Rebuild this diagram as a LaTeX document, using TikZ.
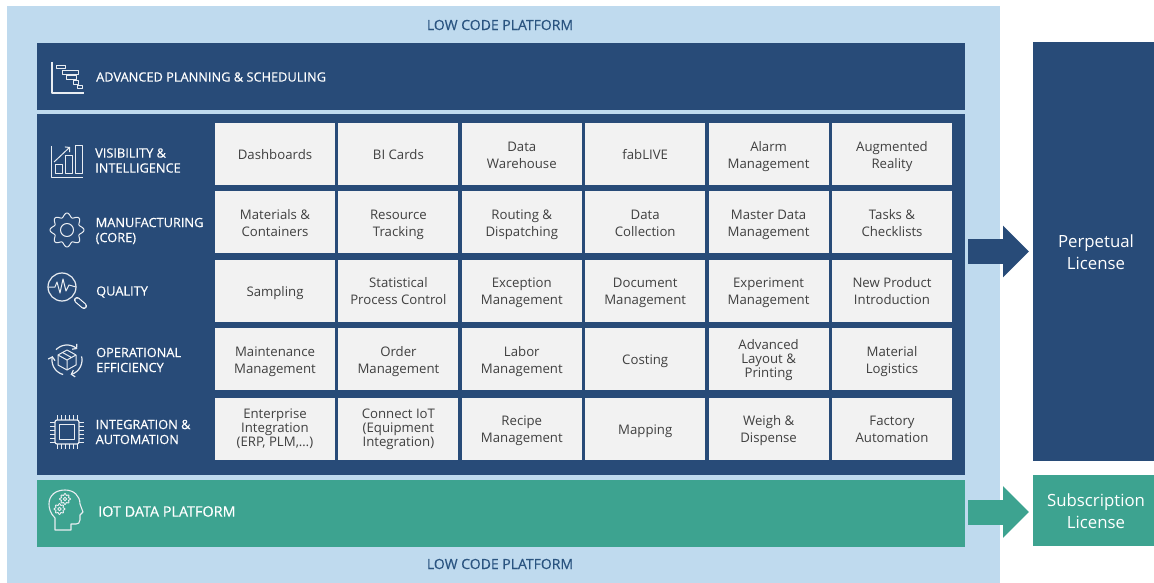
\documentclass[tikz,border=0pt]{standalone}
\usepackage{fontspec}
\setmainfont{Open Sans}
\newfontfamily\headfont[FakeBold=0.4]{Open Sans}
\usetikzlibrary{arrows.meta}
\definecolor{skyback}{HTML}{BFDAEE}
\definecolor{navy}{HTML}{284B78}
\definecolor{teal}{HTML}{3DA390}
\definecolor{cellgray}{HTML}{F2F2F2}
\definecolor{celltext}{HTML}{404040}
\definecolor{platformtext}{HTML}{2A5480}
\tikzset{
  panel/.style={inner sep=0pt, outer sep=0pt, fill=#1},
  cellback/.style={fill=cellgray, minimum width=120pt, minimum height=62pt, inner sep=0pt},
  celltxt/.style={text=celltext, inner sep=0pt, align=center, anchor=base,
    font=\fontsize{13.2}{17}\selectfont},
  onecell/.style={celltxt, yshift=-5.8pt},
  cellbox/.style={celltxt, yshift=-14pt},
  tightcell/.style={celltxt, yshift=-18pt, font=\fontsize{13.2}{14}\selectfont},
  layerlabel/.style={text=white, anchor=west, inner sep=0pt, align=left,
    font=\headfont\fontsize{12.8}{15}\selectfont},
  platformlabel/.style={text=platformtext, inner sep=0pt, font=\headfont\fontsize{14}{15}\selectfont},
  licenselabel/.style={text=white, inner sep=0pt, align=center, font=\fontsize{16.8}{21.5}\selectfont},
  bigarrow/.style={line width=25pt, draw=#1, shorten <=3pt, shorten >=4pt,
    -{Triangle[length=26pt,width=50pt,fill=#1]}},
  iconline/.style={draw=white!90!navy, line width=1pt, line join=round}
}
\begin{document}
\begin{tikzpicture}[x=1pt,y=-1pt]
  \useasboundingbox (0,0) rectangle (1154,583);

  % the background and the panels
  \fill[skyback] (7,6) rectangle (1000,583);
  \node[panel=navy, minimum width=928pt, minimum height=67pt] (aps) at (501,76.5) {};
  \node[panel=navy, minimum width=928pt, minimum height=361pt] (stack) at (501,294.5) {};
  \node[panel=teal, minimum width=928pt, minimum height=67pt] (iot) at (501,513.5) {};
  \node[panel=navy, minimum width=121pt, minimum height=419pt] (perpetual) at (1093.5,251.5) {};
  \node[panel=teal, minimum width=121pt, minimum height=71pt] (subscription) at (1093.5,510.5) {};

  % the texts of the panels
  \node[platformlabel] (lowtop) at (500,25) {LOW CODE PLATFORM};
  \node[platformlabel] (lowbottom) at (500,564) {LOW CODE PLATFORM};
  \node[licenselabel] (perptext) at (1096,252) {Perpetual\\License};
  \node[licenselabel] (subtext) at (1096,511) {Subscription\\License};
  \node[layerlabel] (apstext) at (96,77) {ADVANCED PLANNING \& SCHEDULING};
  \node[layerlabel] (vistext) at (95,160.5) {VISIBILITY \&\\INTELLIGENCE};
  \node[layerlabel] (mantext) at (95.5,231) {MANUFACTURING\\(CORE)};
  \node[layerlabel] (qualtext) at (96,292) {QUALITY};
  \node[layerlabel] (optext) at (96,360) {OPERATIONAL\\EFFICIENCY};
  \node[layerlabel] (inttext) at (95.5,432) {INTEGRATION \&\\AUTOMATION};
  \node[layerlabel, font=\headfont\fontsize{14.4}{15}\selectfont] (iottext) at (98,511.5) {IOT DATA PLATFORM};

  % the cells
  \foreach \rowname/\cy in {vis/154, man/222, qual/290.5, op/359, int/428.5}
    \foreach \i in {1,...,6}
      \node[cellback] (\rowname\i) at ({275+123.4*(\i-1)},\cy) {};

  % their texts, row by row
  \foreach \txt/\sty [count=\i] in {Dashboards/onecell, BI Cards/onecell, Data\\Warehouse/cellbox, fabLIVE/onecell, Alarm\\Management/cellbox, Augmented\\Reality/cellbox}
    \node[\sty] (vistxt\i) at (vis\i) {\txt};
  \foreach \txt [count=\i] in {Materials \&\\Containers, Resource\\Tracking, Routing \&\\Dispatching, Data\\Collection, Master Data\\Management, Tasks \&\\Checklists}
    \node[cellbox] (mantxt\i) at (man\i) {\txt};
  \foreach \txt/\sty [count=\i] in {Sampling/onecell, Statistical\\Process Control/cellbox, Exception\\Management/cellbox, Document\\Management/cellbox, Experiment\\Management/cellbox, New Product\\Introduction/cellbox}
    \node[\sty] (qualtxt\i) at (qual\i) {\txt};
  \foreach \txt/\sty [count=\i] in {Maintenance\\Management/cellbox, Order\\Management/cellbox, Labor\\Management/cellbox, Costing/onecell, Advanced\\Layout \&\\Printing/tightcell, Material\\Logistics/cellbox}
    \node[\sty] (optxt\i) at (op\i) {\txt};
  \foreach \txt/\sty [count=\i] in {{Enterprise\\Integration\\(ERP, PLM,…)}/tightcell, Connect IoT\\(Equipment\\Integration)/tightcell, Recipe\\Management/cellbox, Mapping/onecell, Weigh \&\\Dispense/cellbox, Factory\\Automation/cellbox}
    \node[\sty] (inttxt\i) at (int\i) {\txt};

  % the arrows to the licenses
  \draw[bigarrow=navy] (perpetual.west -| stack.east) -- (perpetual.west);
  \coordinate (iotout) at (965,512);
  \coordinate (subin) at (1033,512);
  \draw[bigarrow=teal] (iotout) -- (subin);

  % gantt icon
  \draw[iconline, line width=1.3pt] (52,62) -- (52,93) -- (84,93);
  \foreach \xa/\ya/\xb/\yb in {56/66/65/69, 62/71/78/75, 66/76/76/80, 73/81/78/85, 77/86/82/89}
    \draw[iconline] (\xa,\ya) rectangle (\xb,\yb);

  % bars icon
  \draw[iconline] (51,146) -- (51,177) -- (83,177);
  \foreach \xa/\ya/\xb in {55/165/62, 65/156/72, 75/146/82}
    \draw[iconline] (\xa,\ya) rectangle (\xb,173);
  \draw[iconline, -{Straight Barb[length=3pt,width=7pt]}] (54,162) -- (70,147);

  % gear icon
  \draw[iconline] plot[domain=0:360, samples=97, smooth] ({67+(15+2*cos(8*\x))*cos(\x)},{230+(15+2*cos(8*\x))*sin(\x)}) -- cycle;
  \draw[iconline] (67,230) circle [radius=6.5pt];

  % magnifier icon
  \draw[iconline, line width=1.2pt] (62,287) circle [radius=14pt];
  \draw[white, line width=6pt, line cap=round] (77,300) -- (84,306);
  \draw[navy, line width=3.8pt, line cap=round] (77,300) -- (84,306);
  \draw[iconline] (48,287) -- (55,287) -- (57,282) -- (60,293) -- (63,279) -- (66,291) -- (69,285) -- (76,287);

  % box and cycle icon
  \foreach \a in {-47,76,195}
    \draw[iconline, line width=1.2pt, -{Straight Barb[length=3pt,width=7pt]}] plot[domain=\a-90:\a, samples=16, smooth] ({67+15*cos(\x)},{360+15*sin(\x)});
  \draw[iconline] (67,350) -- (76,355) -- (76,365) -- (67,370) -- (58,365) -- (58,355) -- cycle;
  \draw[iconline] (58,355) -- (67,360) -- (76,355) (67,360) -- (67,370) (62.5,352.5) -- (71.5,357.5);

  % chip icon
  \draw[iconline, line width=1.2pt, rounded corners=2pt] (55,420) rectangle (79,444);
  \draw[iconline, line width=1.2pt] (59.5,424.5) rectangle (74.5,439.5);
  \foreach \d in {-10,-6,...,10} {
    \draw[iconline] (67+\d,420) -- (67+\d,415);
    \draw[iconline] (67+\d,444) -- (67+\d,449);
    \draw[iconline] (55,432+\d) -- (50,432+\d);
    \draw[iconline] (79,432+\d) -- (84,432+\d);
  }

  % head icon
  \draw[iconline, line width=1.1pt] (55,530) -- (55,518) .. controls (50,513) and (49,508) .. (49,504)
    .. controls (49,495) and (56,490) .. (65,490) .. controls (74,490) and (80,496) .. (80,504)
    -- (83,512) -- (80,515) -- (80,520) .. controls (80,523) and (78,524) .. (76,524)
    -- (71,524) -- (71,530) -- cycle;
  \foreach \gx/\gy in {65/499, 59.5/509} {
    \draw[iconline, line width=.9pt] plot[domain=0:360, samples=65, smooth] ({\gx+(4.6+.8*cos(8*\x))*cos(\x)},{\gy+(4.6+.8*cos(8*\x))*sin(\x)}) -- cycle;
    \draw[iconline, line width=.8pt] (\gx,\gy) circle [radius=1.8pt];
  }
\end{tikzpicture}
\end{document}
